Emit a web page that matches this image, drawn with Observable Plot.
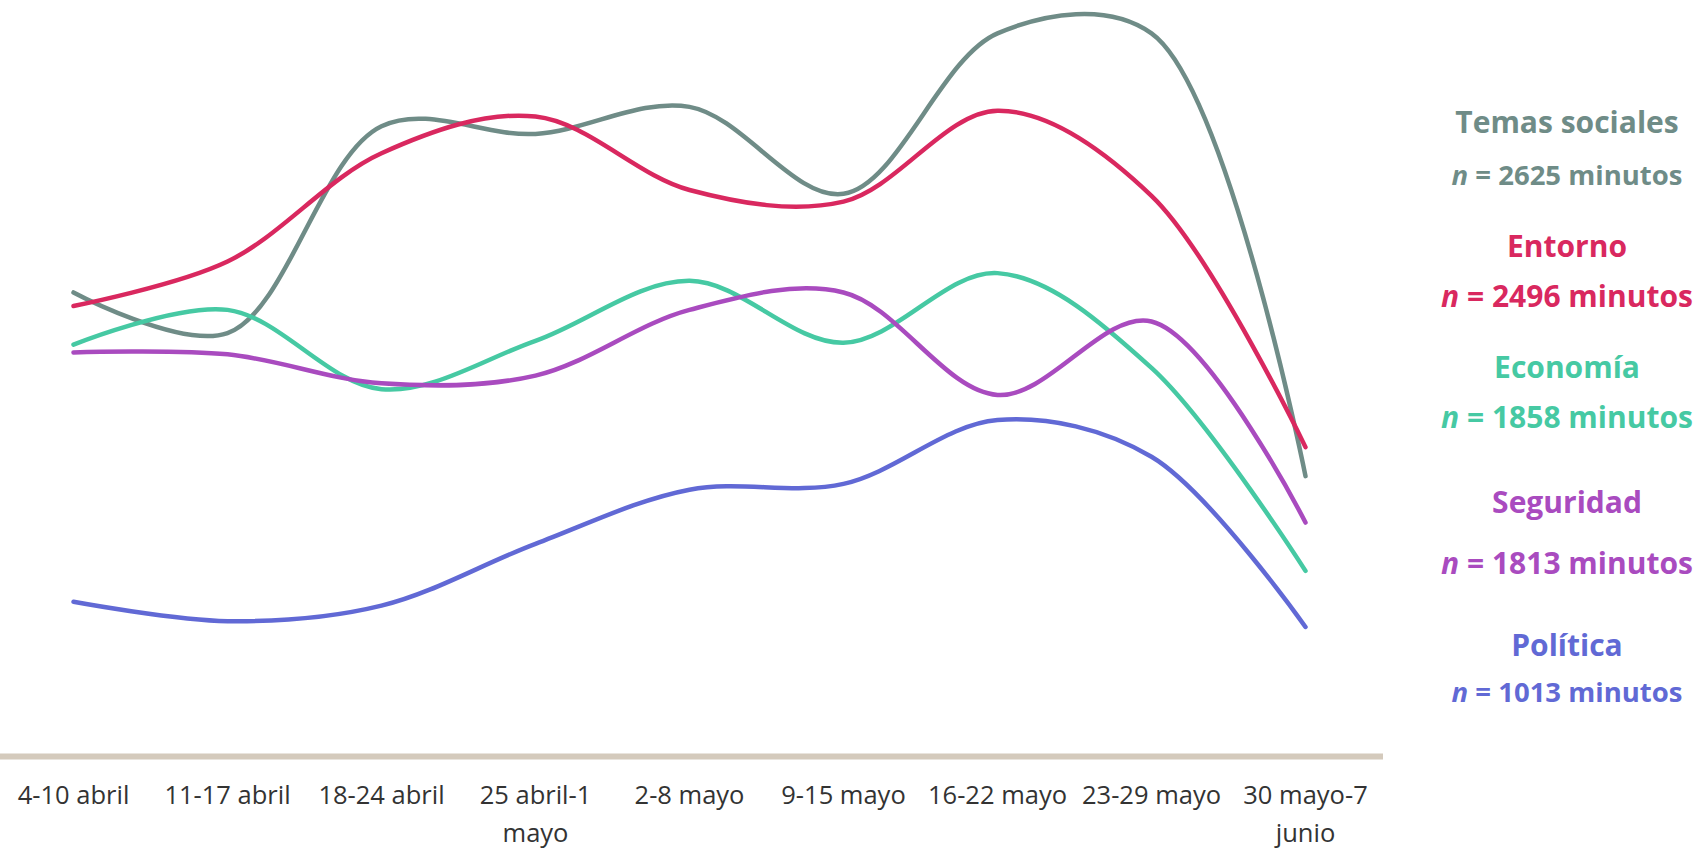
<!DOCTYPE html>
<html>
<head>
<meta charset="utf-8">
<script src="https://cdn.jsdelivr.net/npm/d3@7"></script>
<script src="https://cdn.jsdelivr.net/npm/@observablehq/plot@0.6"></script>
<style>
  body { margin: 0; background: #fff; font-family: "Open Sans", sans-serif; }
  #wrap { position: relative; width: 1707px; height: 850px; overflow: hidden; }
  #legend { position: absolute; left: 0; top: 0; pointer-events: none; }
</style>
</head>
<body>
<div id="wrap"><div id="chart"></div></div>
<script>
// ---- Data ----
const weeks = ["4-10 abril", "11-17 abril", "18-24 abril", "25 abril-1 mayo", "2-8 mayo",
               "9-15 mayo", "16-22 mayo", "23-29 mayo", "30 mayo-7 junio"];
const tickLabels = ["4-10 abril", "11-17 abril", "18-24 abril", "25 abril-1\nmayo", "2-8 mayo",
                    "9-15 mayo", "16-22 mayo", "23-29 mayo", "30 mayo-7\njunio"];
const seriesNames = ["Temas sociales", "Entorno", "Economía", "Seguridad", "Política"];
const totals = [2625, 2496, 1858, 1813, 1013];
const seriesColors = ["#6f8c87", "#d9285f", "#46c9a3", "#a94bbf", "#6169d5"];

// minutes per week
const temasSociales = [240, 219, 326, 322, 336, 291, 374, 374, 145];
const entorno       = [233, 256, 312, 331, 293, 287, 334, 290, 160];
const economia      = [213, 231, 190, 215, 246, 214, 250, 201, 96];
const seguridad     = [209, 208, 193, 197, 231, 240, 187, 225, 121];
const politica      = [80, 70, 78, 110, 138, 141, 174, 155, 67];

const seriesValues = [temasSociales, entorno, economia, seguridad, politica];

// long table for Plot
const rows = [];
seriesNames.forEach((s, i) => {
  weeks.forEach((w, j) => rows.push({serie: s, week: w, value: seriesValues[i][j]}));
});

const W = 1707, H = 850;

const chart = Plot.plot({
  width: W,
  height: H,
  marginLeft: 0,
  marginRight: 324,
  marginTop: 0,
  marginBottom: 94,
  style: {fontFamily: "'Open Sans', sans-serif", background: "#fff"},
  x: {type: "point", domain: weeks, range: [71, 1306], padding: 0},
  y: {domain: [0, 391], axis: null},
  color: {domain: seriesNames, range: seriesColors},
  marks: [
    Plot.ruleY([0], {stroke: "#d4cabc", strokeWidth: 6}),
    Plot.line(rows, {
      x: "week", y: "value", z: "serie", stroke: "serie",
      strokeWidth: 4.5, curve: "catmull-rom", strokeLinecap: "round", strokeLinejoin: "round"
    }),
    Plot.axisX({
      tickSize: 0, tickPadding: 20, fontSize: 25.5, lineHeight: 1.5,
      fill: "#333", tickFormat: (d) => tickLabels[weeks.indexOf(d)], label: null
    })
  ]
});
document.getElementById("chart").appendChild(chart);

// ---- Legend (right side) ----
const titleY = [133, 257, 378, 513, 656];
const nY = [185, 307, 428, 574, 702];
const nSize = [27.5, 30, 30, 30, 27.5];
const legendX = 1567;

const lg = d3.select("#wrap").append("svg")
  .attr("id", "legend").attr("width", W).attr("height", H)
  .style("font-family", "'Open Sans', sans-serif");

seriesNames.forEach((s, i) => {
  lg.append("text")
    .attr("x", legendX).attr("y", titleY[i])
    .attr("text-anchor", "middle")
    .attr("font-size", 30).attr("font-weight", 700)
    .attr("fill", seriesColors[i])
    .text(s);
  const t = lg.append("text")
    .attr("x", legendX).attr("y", nY[i])
    .attr("text-anchor", "middle")
    .attr("font-size", nSize[i]).attr("font-weight", 700)
    .attr("fill", seriesColors[i]);
  t.append("tspan").attr("font-style", "italic").text("n");
  t.append("tspan").text(" = " + totals[i] + " minutos");
});
</script>
</body>
</html>
